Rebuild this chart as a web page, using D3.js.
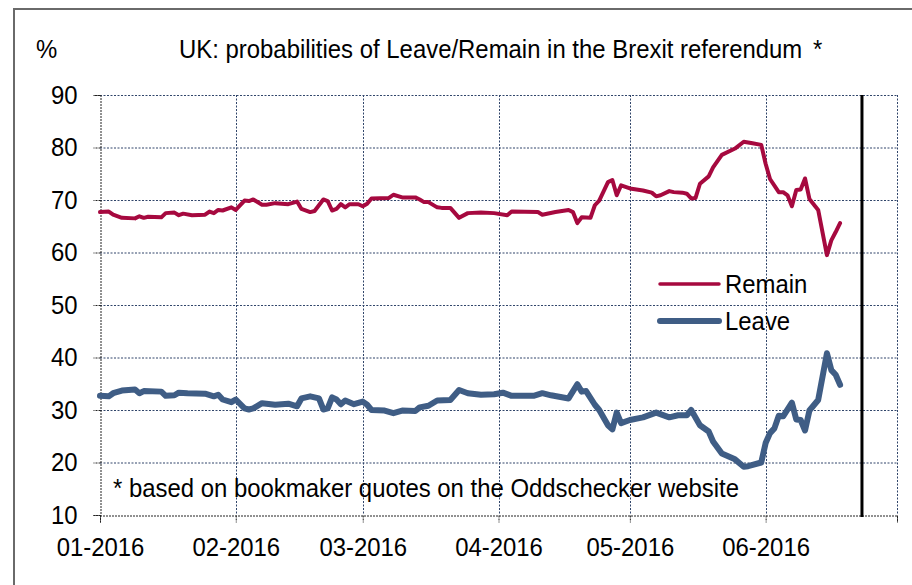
<!DOCTYPE html>
<html>
<head>
<meta charset="utf-8">
<script src="https://cdn.jsdelivr.net/npm/d3@7"></script>
<style>
  html, body { margin: 0; background: #fff; }
  svg { display: block; font-family: "Liberation Sans", Arial, sans-serif; }
</style>
</head>
<body>
<svg id="chart" width="912" height="585"></svg>
<script>
// Brexit referendum: bookmaker-implied probabilities, daily-ish readings

const remain = [
  ["2016-01-01", 67.7], ["2016-01-03", 67.8], ["2016-01-04", 67.2], ["2016-01-06", 66.6],
  ["2016-01-09", 66.5], ["2016-01-10", 66.9], ["2016-01-11", 66.6], ["2016-01-12", 66.8],
  ["2016-01-15", 66.7], ["2016-01-16", 67.5], ["2016-01-18", 67.6], ["2016-01-19", 67.1],
  ["2016-01-20", 67.4], ["2016-01-22", 67.1], ["2016-01-25", 67.2], ["2016-01-26", 67.8],
  ["2016-01-27", 67.5], ["2016-01-28", 68.1], ["2016-01-29", 68.0], ["2016-01-31", 68.6],
  ["2016-02-01", 68.1], ["2016-02-03", 69.9], ["2016-02-04", 69.8], ["2016-02-05", 70.1],
  ["2016-02-07", 69.1], ["2016-02-08", 69.1], ["2016-02-10", 69.4], ["2016-02-13", 69.2],
  ["2016-02-15", 69.7], ["2016-02-16", 68.3], ["2016-02-18", 67.7], ["2016-02-19", 67.9],
  ["2016-02-21", 70.1], ["2016-02-22", 69.8], ["2016-02-23", 68.0], ["2016-02-24", 68.3],
  ["2016-02-25", 69.2], ["2016-02-26", 68.6], ["2016-02-27", 69.2], ["2016-02-29", 69.2],
  ["2016-03-01", 68.8], ["2016-03-02", 69.3], ["2016-03-03", 70.3], ["2016-03-07", 70.4],
  ["2016-03-08", 71.0], ["2016-03-10", 70.5], ["2016-03-13", 70.5], ["2016-03-14", 70.1],
  ["2016-03-15", 69.6], ["2016-03-16", 69.6], ["2016-03-18", 68.6], ["2016-03-19", 68.5],
  ["2016-03-21", 68.5], ["2016-03-23", 66.6], ["2016-03-25", 67.5], ["2016-03-28", 67.6],
  ["2016-03-31", 67.5], ["2016-04-03", 67.1], ["2016-04-04", 67.8], ["2016-04-10", 67.7],
  ["2016-04-11", 67.2], ["2016-04-14", 67.7], ["2016-04-17", 68.1], ["2016-04-18", 67.7],
  ["2016-04-19", 65.6], ["2016-04-20", 66.7], ["2016-04-22", 66.6], ["2016-04-23", 69.0],
  ["2016-04-24", 69.9], ["2016-04-26", 73.4], ["2016-04-27", 73.8], ["2016-04-28", 70.9],
  ["2016-04-29", 72.8], ["2016-05-01", 72.2], ["2016-05-04", 71.8], ["2016-05-06", 71.4],
  ["2016-05-07", 70.7], ["2016-05-08", 70.9], ["2016-05-10", 71.7], ["2016-05-11", 71.5],
  ["2016-05-13", 71.4], ["2016-05-14", 71.2], ["2016-05-15", 70.3], ["2016-05-16", 70.4],
  ["2016-05-17", 73.1], ["2016-05-19", 74.5], ["2016-05-20", 76.2], ["2016-05-22", 78.6],
  ["2016-05-25", 79.8], ["2016-05-27", 81.1], ["2016-05-29", 80.8], ["2016-05-31", 80.5],
  ["2016-06-01", 76.9], ["2016-06-02", 74.0], ["2016-06-04", 71.5], ["2016-06-05", 71.5],
  ["2016-06-06", 70.9], ["2016-06-07", 68.8], ["2016-06-08", 71.9], ["2016-06-09", 72.0],
  ["2016-06-10", 74.1], ["2016-06-11", 70.2], ["2016-06-13", 68.1], ["2016-06-15", 59.5],
  ["2016-06-16", 62.3], ["2016-06-17", 63.9], ["2016-06-18", 65.6]
];

const leave = [
  ["2016-01-01", 32.7], ["2016-01-03", 32.6], ["2016-01-04", 33.2], ["2016-01-06", 33.7],
  ["2016-01-09", 33.9], ["2016-01-10", 33.2], ["2016-01-11", 33.6], ["2016-01-15", 33.5],
  ["2016-01-16", 32.7], ["2016-01-18", 32.8], ["2016-01-19", 33.3], ["2016-01-21", 33.2],
  ["2016-01-25", 33.1], ["2016-01-27", 32.6], ["2016-01-28", 32.9], ["2016-01-29", 32.0],
  ["2016-01-31", 31.5], ["2016-02-01", 32.0], ["2016-02-03", 30.3], ["2016-02-04", 30.1],
  ["2016-02-05", 30.3], ["2016-02-07", 31.3], ["2016-02-08", 31.2], ["2016-02-10", 31.0],
  ["2016-02-13", 31.2], ["2016-02-15", 30.7], ["2016-02-16", 32.2], ["2016-02-18", 32.6],
  ["2016-02-20", 32.2], ["2016-02-21", 30.1], ["2016-02-22", 30.3], ["2016-02-23", 32.4],
  ["2016-02-24", 32.0], ["2016-02-25", 31.1], ["2016-02-26", 31.8], ["2016-02-28", 31.1],
  ["2016-03-01", 31.6], ["2016-03-02", 31.0], ["2016-03-03", 30.0], ["2016-03-06", 29.9],
  ["2016-03-08", 29.4], ["2016-03-10", 29.9], ["2016-03-13", 29.8], ["2016-03-14", 30.5],
  ["2016-03-16", 30.8], ["2016-03-18", 31.8], ["2016-03-21", 31.9], ["2016-03-23", 33.8],
  ["2016-03-25", 33.2], ["2016-03-28", 32.9], ["2016-03-31", 33.0], ["2016-04-02", 33.3],
  ["2016-04-04", 32.7], ["2016-04-09", 32.7], ["2016-04-11", 33.2], ["2016-04-13", 32.8],
  ["2016-04-17", 32.2], ["2016-04-19", 34.9], ["2016-04-20", 33.5], ["2016-04-21", 33.6],
  ["2016-04-23", 31.0], ["2016-04-24", 30.0], ["2016-04-26", 27.1], ["2016-04-27", 26.3],
  ["2016-04-28", 29.5], ["2016-04-29", 27.5], ["2016-05-01", 28.1], ["2016-05-04", 28.6],
  ["2016-05-07", 29.5], ["2016-05-10", 28.6], ["2016-05-12", 29.0], ["2016-05-14", 29.0],
  ["2016-05-15", 30.0], ["2016-05-17", 27.1], ["2016-05-19", 25.9], ["2016-05-20", 24.0],
  ["2016-05-22", 21.7], ["2016-05-25", 20.6], ["2016-05-27", 19.2], ["2016-05-28", 19.3],
  ["2016-05-31", 20.0], ["2016-06-01", 23.7], ["2016-06-02", 25.6], ["2016-06-03", 26.5],
  ["2016-06-04", 28.9], ["2016-06-05", 28.8], ["2016-06-07", 31.4], ["2016-06-08", 28.2],
  ["2016-06-09", 28.1], ["2016-06-10", 26.1], ["2016-06-11", 29.9], ["2016-06-13", 31.9],
  ["2016-06-15", 40.8], ["2016-06-16", 37.6], ["2016-06-17", 36.7], ["2016-06-18", 34.8]
];

const monthTicks = ["2016-01-01", "2016-02-01", "2016-03-01", "2016-04-01", "2016-05-01", "2016-06-01", "2016-07-01"];
const yTicks = [10, 20, 30, 40, 50, 60, 70, 80, 90];
const referendumDay = "2016-06-23";

const title = "UK: probabilities of Leave/Remain in the Brexit referendum";
const footnote = "* based on bookmaker quotes on the Oddschecker website";

const REMAIN = "#a6093f", LEAVE = "#3f5d85", GRID = "#30456a";
const FS = 26, SQ = 0.92;   // the source text is slightly condensed

const parse = d3.timeParse("%Y-%m-%d");
const fmt = d3.timeFormat("%m-%Y");
const months = monthTicks.map(parse);

const svg = d3.select("#chart");
const L = 100, R = 897, T = 95, B = 515;

const x = d3.scaleTime().domain([months[0], months[months.length - 1]]).range([L, R]);
const y = d3.scaleLinear().domain([10, 90]).range([B, T]);

// outer frame, cut off at right and bottom
svg.append("path")
  .attr("d", `M14,585V9H912`)
  .attr("fill", "none").attr("stroke", "#6a6a6a").attr("stroke-width", 2);

// grid
const grid = svg.append("g").attr("stroke", GRID).attr("stroke-width", 1)
  .attr("stroke-dasharray", "2,1.5").attr("fill", "none");
grid.selectAll("line.h").data(yTicks.slice(1)).join("line")
  .attr("x1", L).attr("x2", R).attr("y1", d => y(d) + 0.5).attr("y2", d => y(d) + 0.5);
grid.selectAll("line.v").data(months.slice(1)).join("line")
  .attr("x1", d => Math.round(x(d)) + 0.5).attr("x2", d => Math.round(x(d)) + 0.5)
  .attr("y1", T).attr("y2", B);

// axes
const gx = svg.append("g").attr("transform", `translate(0,${B + 0.5})`)
  .call(d3.axisBottom(x).tickValues(months).tickSize(7).tickPadding(15.5)
    .tickFormat(d => d.getMonth() === 6 ? "" : fmt(d)));
const gy = svg.append("g").attr("transform", `translate(${L + 0.5},0)`)
  .call(d3.axisLeft(y).tickValues(yTicks).tickSize(7).tickPadding(18).tickFormat(d3.format("d")));

for (const g of [gx, gy]) {
  g.attr("font-size", FS).attr("font-family", null);
  g.select(".domain").attr("stroke", "#222").attr("stroke-dasharray", "2,1");
  g.selectAll(".tick line").attr("stroke", "#222").attr("stroke-dasharray", "2,1");
  g.selectAll(".tick text").attr("fill", "#000").attr("transform", `scale(${SQ},1)`);
}

// referendum day
svg.append("line")
  .attr("x1", x(parse(referendumDay))).attr("x2", x(parse(referendumDay)))
  .attr("y1", T).attr("y2", B + 2)
  .attr("stroke", "#000").attr("stroke-width", 3);

// series
const line = d3.line().x(d => x(parse(d[0]))).y(d => y(d[1])).curve(d3.curveLinear);
svg.append("path").datum(remain).attr("d", line)
  .attr("fill", "none").attr("stroke", REMAIN).attr("stroke-width", 4)
  .attr("stroke-linejoin", "round").attr("stroke-linecap", "round");
svg.append("path").datum(leave).attr("d", line)
  .attr("fill", "none").attr("stroke", LEAVE).attr("stroke-width", 6)
  .attr("stroke-linejoin", "round").attr("stroke-linecap", "round");

// text
function label(str, tx, ty, anchor = "start") {
  return svg.append("text").text(str)
    .attr("transform", `translate(${tx},${ty}) scale(${SQ},1)`)
    .attr("text-anchor", anchor).attr("font-size", FS).attr("fill", "#000");
}
label("%", 36, 58);
label(title, 179, 58);
label("*", 813, 58);
label(footnote, 113, 497);

// legend
const legend = [["Remain", REMAIN, 3.5, 284], ["Leave", LEAVE, 6, 321]];
const lg = svg.append("g");
legend.forEach(([name, color, w, ly]) => {
  lg.append("line").attr("x1", 660).attr("x2", 719).attr("y1", ly).attr("y2", ly)
    .attr("stroke", color).attr("stroke-width", w).attr("stroke-linecap", "round");
  label(name, 725, ly + 9);
});
</script>
</body>
</html>
